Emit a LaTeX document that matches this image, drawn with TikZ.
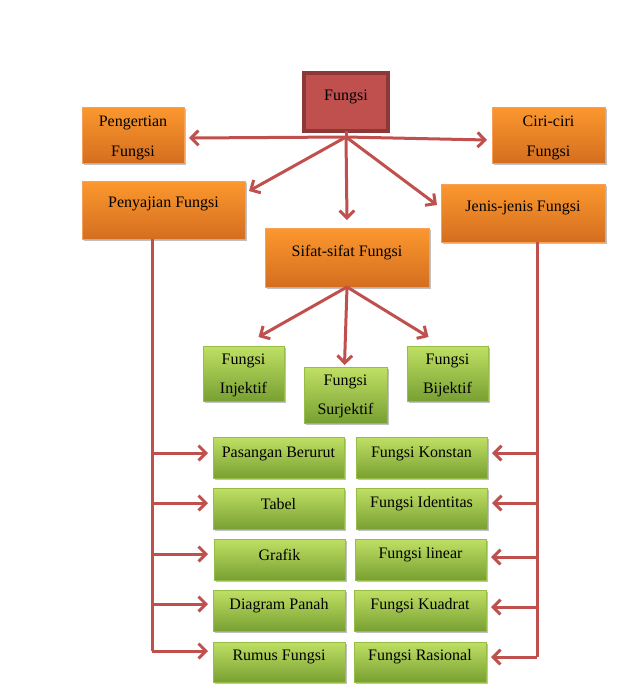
\documentclass[tikz,border=0pt]{standalone}
\usepackage{fontspec}
\setmainfont{Liberation Serif}
\usetikzlibrary{arrows.meta,shadows,calc}
\definecolor{arrowred}{RGB}{192,80,77}
\definecolor{redfill}{RGB}{192,80,77}
\definecolor{redborder}{RGB}{140,56,54}
\definecolor{orangetop}{RGB}{252,152,46}
\definecolor{orangebot}{RGB}{212,110,32}
\definecolor{orangeline}{RGB}{246,160,90}
\definecolor{greentop}{RGB}{192,224,100}
\definecolor{greenbot}{RGB}{120,160,50}
\definecolor{greenline}{RGB}{150,190,70}
\begin{document}
\begin{tikzpicture}[x=0.75pt,y=-0.75pt,
  bx/.style 2 args={minimum width=#1*0.75pt, minimum height=#2*0.75pt, anchor=north west, inner sep=0pt, outer sep=0pt},
  shad/.style={drop shadow={shadow xshift=1.3pt,shadow yshift=-1.3pt,opacity=0.35,fill=black!70}},
  redbox/.style={fill=redfill, draw=redborder, line width=2.4pt, shad},
  obox/.style={top color=orangetop, bottom color=orangebot, draw=orangeline, line width=0.6pt, shad},
  gbox/.style={top color=greentop, bottom color=greenbot, draw=greenline, line width=0.6pt, shad},
  txt/.style={font=\fontsize{12}{22}\selectfont, align=center, inner sep=0pt, text=black},
  arr/.style={draw=arrowred, line width=2.25pt, line join=round, -{Straight Barb[length=5.5pt,width=11pt,line width=2.25pt]}},
  ln/.style={draw=arrowred, line width=2.25pt, line join=round}
]
\useasboundingbox (0,0) rectangle (634,697);

% top level boxes
\node[redbox, bx={84}{58}] (fungsi) at (304,73) {};
\node[txt] (tfungsi) at ($(fungsi.north)+(0,24)$) {Fungsi};

\node[obox, bx={102}{56}] (peng) at (82,107) {};
\node[txt] (tpeng) at ($(peng.north)+(0,31)$) {Pengertian\\Fungsi};

\node[obox, bx={113}{56}] (ciri) at (492,107) {};
\node[txt] (tciri) at ($(ciri.north)+(0,31)$) {Ciri-ciri\\Fungsi};

\node[obox, bx={163}{58}] (peny) at (82,181) {};
\node[txt] (tpeny) at ($(peny.north)+(0,23)$) {Penyajian Fungsi};

\node[obox, bx={164}{58}] (jenis) at (441,184) {};
\node[txt] (tjenis) at ($(jenis.north)+(0,24)$) {Jenis-jenis Fungsi};

\node[obox, bx={164}{59}] (sifat) at (265,228) {};
\node[txt] (tsifat) at ($(sifat.north)+(0,25)$) {Sifat-sifat Fungsi};

% sifat children
\node[gbox, bx={81}{55}] (inj) at (203,346) {};
\node[txt] (tinj) at ($(inj.north)+(0,29.5)$) {Fungsi\\Injektif};
\node[gbox, bx={83}{56}] (sur) at (304,367) {};
\node[txt] (tsur) at ($(sur.north)+(0,29.5)$) {Fungsi\\Surjektif};
\node[gbox, bx={81}{55}] (bij) at (407,346) {};
\node[txt] (tbij) at ($(bij.north)+(0,29.5)$) {Fungsi\\Bijektif};

% left column
\node[gbox, bx={131}{41}] (l1) at (213,437) {};
\node[txt] (tl1) at ($(l1.north)+(0,17)$) {Pasangan Berurut};
\node[gbox, bx={131}{41}] (l2) at (213,488) {};
\node[txt] (tl2) at ($(l2.north)+(0,16)$) {Tabel};
\node[gbox, bx={131}{41}] (l3) at (214,539) {};
\node[txt] (tl3) at ($(l3.north)+(0,16)$) {Grafik};
\node[gbox, bx={132}{41}] (l4) at (213,590) {};
\node[txt] (tl4) at ($(l4.north)+(0,16)$) {Diagram Panah};
\node[gbox, bx={132}{40}] (l5) at (213,642) {};
\node[txt] (tl5) at ($(l5.north)+(0,15)$) {Rumus Fungsi};

% right column
\node[gbox, bx={131}{41}] (r1) at (356,437) {};
\node[txt] (tr1) at ($(r1.north)+(0,17)$) {Fungsi Konstan};
\node[gbox, bx={131}{41}] (r2) at (356,488) {};
\node[txt] (tr2) at ($(r2.north)+(0,16)$) {Fungsi Identitas};
\node[gbox, bx={131}{41}] (r3) at (355,539) {};
\node[txt] (tr3) at ($(r3.north)+(0,16)$) {Fungsi linear};
\node[gbox, bx={132}{41}] (r4) at (354,590) {};
\node[txt] (tr4) at ($(r4.north)+(0,16)$) {Fungsi Kuadrat};
\node[gbox, bx={132}{40}] (r5) at (354,642) {};
\node[txt] (tr5) at ($(r5.north)+(0,15)$) {Fungsi Rasional};

% arrows from Fungsi
\coordinate (hub) at ($(fungsi.south)+(0,6)$);
\draw[ln] (fungsi.south) -- (hub);
\draw[arr] (hub) -- ($(peng.east)+(5,3)$);
\draw[arr] (hub) -- ($(ciri.west)+(-5,5)$);
\draw[arr] (hub) -- ($(peny.north east)+(4,10)$);
\draw[arr] (hub) -- ($(sifat.north)+(0,-8)$);
\draw[arr] (hub) -- ($(jenis.north west)+(-4,21)$);

% arrows from Sifat
\coordinate (shub) at (sifat.south);
\draw[arr] (shub) -- ($(inj.north)+(15,-9)$);
\draw[arr] (shub) -- ($(sur.north)+(-1,-2)$);
\draw[arr] (shub) -- ($(bij.north)+(-19,-9)$);

% left trunk
\coordinate (L1) at (152,453);
\coordinate (L2) at (152,503);
\coordinate (L3) at (152,554);
\coordinate (L4) at (152,604);
\coordinate (L5) at (152,651);
\draw[ln] (peny.south -| L1) -- (L5);
\draw[arr, shorten >=3.75pt] (L1) -- (L1 -| l1.west);
\draw[arr, shorten >=3.75pt] (L2) -- (L2 -| l2.west);
\draw[arr, shorten >=4.5pt] (L3) -- (L3 -| l3.west);
\draw[arr, shorten >=3.75pt] (L4) -- (L4 -| l4.west);
\draw[arr, shorten >=3.75pt] (L5) -- (L5 -| l5.west);

% right trunk
\coordinate (R1) at (537,453);
\coordinate (R2) at (537,503);
\coordinate (R3) at (537,557);
\coordinate (R4) at (537,607);
\coordinate (R5) at (537,657);
\draw[ln] (jenis.south -| R1) -- (R5);
\draw[arr, shorten >=3.75pt] (R1) -- (R1 -| r1.east);
\draw[arr, shorten >=3.75pt] (R2) -- (R2 -| r2.east);
\draw[arr, shorten >=3.75pt] (R3) -- (R3 -| r3.east);
\draw[arr, shorten >=3.75pt] (R4) -- (R4 -| r4.east);
\draw[arr, shorten >=3.75pt] (R5) -- (R5 -| r5.east);
\end{tikzpicture}
\end{document}
